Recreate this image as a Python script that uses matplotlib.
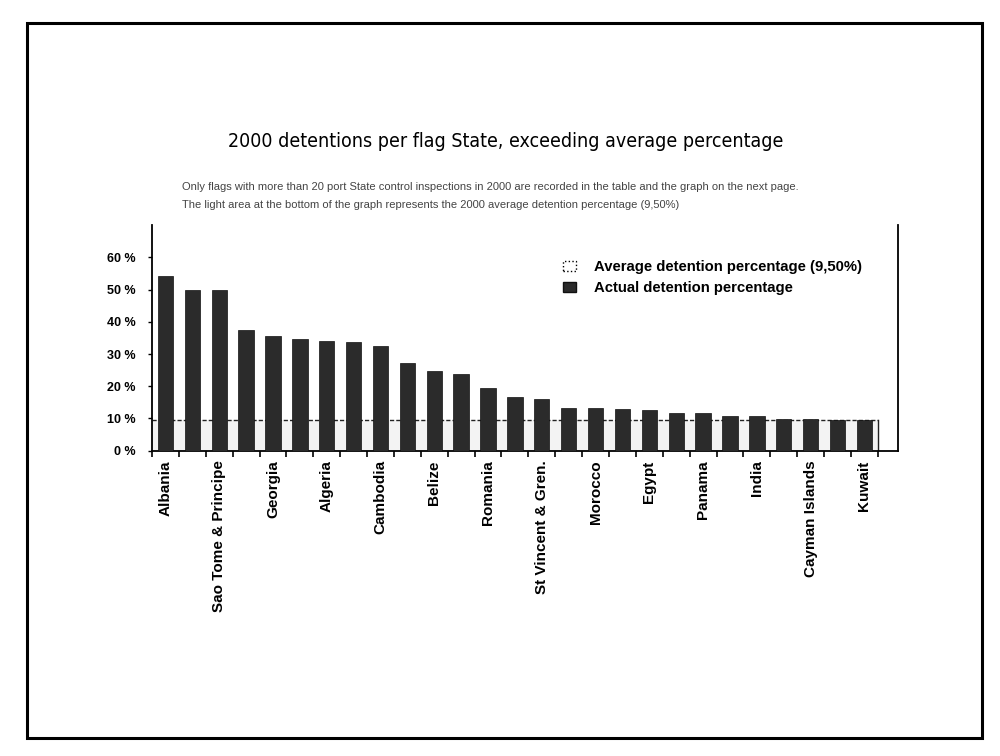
import numpy as np
import matplotlib.pyplot as plt
from matplotlib.patches import Patch, Rectangle

# data (every second flag State is unlabelled there)
flags = ['Albania', '', 'Sao Tome & Principe', '', 'Georgia', '', 'Algeria', '',
         'Cambodia', '', 'Belize', '', 'Romania', '', 'St Vincent & Gren.', '',
         'Morocco', '', 'Egypt', '', 'Panama', '', 'India', '',
         'Cayman Islands', '', 'Kuwait']
actual = [54.2, 49.8, 49.8, 37.6, 35.5, 34.8, 34.2, 33.6, 32.4, 27.2,
          24.8, 23.9, 19.3, 16.8, 15.9, 13.1, 13.3, 12.9, 12.7, 11.8,
          11.8, 10.7, 10.7, 9.9, 9.7, 9.6, 9.6]
average = 9.5
yticks = [0, 10, 20, 30, 40, 50, 60]

plt.rcParams['font.family'] = ['Liberation Sans', 'DejaVu Sans']

fig = plt.figure(figsize=(10, 7.56), dpi=100)
fig.patch.set_facecolor('white')

# page frame
fig.patches.append(Rectangle((0.027, 0.024), 0.955, 0.946, transform=fig.transFigure,
                             fill=False, edgecolor='black', linewidth=2.2))

fig.text(0.506, 0.813, '2000 detentions per flag State, exceeding average percentage',
         ha='center', va='center', fontsize=14, fontstretch='condensed',
         family=['DejaVu Sans'])
fig.text(0.182, 0.753, 'Only flags with more than 20 port State control inspections in 2000 are '
         'recorded in the table and the graph on the next page.',
         ha='left', va='center', fontsize=8, color='#444444')
fig.text(0.182, 0.729, 'The light area at the bottom of the graph represents the 2000 average '
         'detention percentage (9,50%)',
         ha='left', va='center', fontsize=8, color='#444444')

ax = fig.add_axes([0.152, 0.404, 0.746, 0.298])
x = np.arange(len(actual))

# light area = average detention percentage
ax.fill_between([-0.5, len(actual) - 0.5], 0, average, facecolor='#f3f3f3',
                edgecolor='none', zorder=1)
ax.plot([-0.5, len(actual) - 0.5], [average, average], color='#222222',
        linestyle=(0, (3, 1.5)), linewidth=1.0, zorder=2)
ax.plot([len(actual) - 0.5, len(actual) - 0.5], [0, average], color='#222222',
        linewidth=1.0, zorder=2)

ax.bar(x, actual, width=0.57, color='#2b2b2b', edgecolor='#111111', linewidth=0.5, zorder=3)

ax.set_xlim(-0.5, len(actual) + 0.25)
ax.set_ylim(0, 70)
ax.set_yticks(yticks)
ax.set_yticklabels([f'{v} %' for v in yticks], fontsize=9, fontweight='bold')
ax.set_xticks(x)
ax.set_xticklabels(flags, rotation=90, fontsize=11, fontweight='bold')
ax.set_xticks(np.arange(-0.5, len(actual)), minor=True)
ax.tick_params(axis='x', which='major', length=0, pad=7)
ax.tick_params(axis='x', which='minor', length=4, width=1.2, direction='out')
ax.tick_params(axis='y', length=3, width=1.0, pad=9)

ax.spines['top'].set_visible(False)
for s in ['left', 'bottom', 'right']:
    ax.spines[s].set_linewidth(1.3)

handles = [Patch(facecolor='white', edgecolor='black', linestyle=':', linewidth=1.0),
           Patch(facecolor='#2b2b2b', edgecolor='#111111')]
ax.legend(handles, ['Average detention percentage (9,50%)', 'Actual detention percentage'],
          loc='upper left', bbox_to_anchor=(0.533, 0.905), frameon=False,
          prop={'weight': 'bold', 'size': 10.7}, handlelength=0.9, handleheight=0.7,
          handletextpad=1.2, labelspacing=0.5)

fig.savefig('out.png', dpi=100, facecolor='white')
